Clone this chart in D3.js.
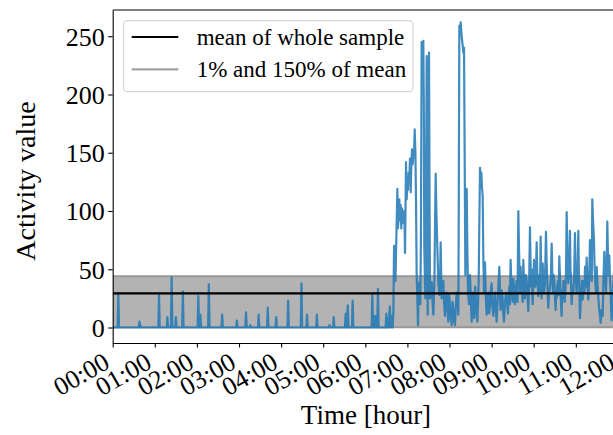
<!DOCTYPE html>
<html lang="en">
    <head>
        <meta charset="utf-8">
        <title>Activity value</title>
        <script src="https://d3js.org/d3.v7.min.js"></script>
        <style type="text/css">
            body {
                margin: 0;
                background: white;
            }
            .axis path,
            .axis line {
                stroke: black;
                stroke-width: 1.1px;
            }
            .activity {
                fill: none;
                stroke: #1f77b4;
                stroke-opacity: 0.85;
                stroke-width: 2.2px;
                stroke-linejoin: round;
            }
        </style>
    </head>
    <body>
        <script type="text/javascript">

            const w = 613;
            const h = 435;
            const margin = {top: 10, bottom: 92, left: 112.7};
            const serif = "'Liberation Serif', 'Times New Roman', Times, serif";

            // tick labels along the time axis (one per hour)
            const hourLabels = ["00:00", "01:00", "02:00", "03:00", "04:00", "05:00", "06:00",
                                "07:00", "08:00", "09:00", "10:00", "11:00", "12:00"];
            const valueTicks = [0, 50, 100, 150, 200, 250];

            const meanValue = 29.3;
            const bandLow = 0.01 * meanValue;
            const bandHigh = 1.5 * meanValue;

            // [minute of day, activity value]
            const nightPart = [
                [0,0],[7,0],[8,28],[9,0],[37,0],[38,5],[39,3],[40,0],[65,0],[66,28],[67,0],
                [77,0],[78,9],[79,0],[83,0],[84,43],[85,0],[89,0],[90,9],[91,0],[99,0],[100,31],[101,0],
                [121,0],[122,27],[123,0],[124,0],[125,11],[126,0],[136,0],[137,37],[138,0],
                [155,0],[156,11],[157,0],[176,0],[177,6],[178,0],[189,0],[190,13],[191,0],
                [195,0],[196,2],[197,0],[207,0],[208,11],[209,0],[220,0],[221,17],[222,0],
                [232,0],[233,9],[234,0],[249,0],[250,23],[251,0],[268,0],[269,38],[270,0],
                [276,0],[277,11],[278,0],[290,0],[291,11],[292,0],[308,0],[309,2],[310,0],
                [314,0],[315,9],[316,0],[331,0],[332,12],[333,0],[334,0],[335,19],[336,0],
                [341,0],[342,23],[343,0],[369,0],[370,28],[371,0],[372,10],[374,0],[375,10],
                [376,0],[377,0],[378,33],[379,0],[389,0],[390,12],[391,0],[392,8],[393,0],
                [395,18],[396,0],[398,10],[399,0]
            ];

            const morningPart = [
                [400,12],[401,70],[402,45],[403,40],[404,70],[405.7,119],[406.5,85],[407.6,95],[408.5,110],
                [409.4,92],[410.4,105],[411.3,85],[412.3,102],[413.2,95],[414.2,90],[415.6,100],[416.6,64],
                [418,142],[419,110],[419.9,125],[420.8,118],[421.8,133],[422.8,128],[423.7,145],[424.7,116],
                [425.6,140],[426.6,153],[427.5,140],[428.5,148],[429.5,150],[430.4,170],[431.4,150],
                [432.3,108],[433.2,45],[434.1,28],[435.1,2],[436,30],[437,39],[438.4,20],[439.3,80],
                [440.3,245],[441.5,240],[442.7,246],[443.4,190],[444.1,68],[445.6,25],[446.5,120],
                [447.5,233],[448.2,150],[448.9,11],[450,160],[450.8,236],[451.5,120],[452.2,25],
                [453.4,38],[454.6,39],[455.8,22],[457,11],[458.5,40],[459.4,90],[460.3,132],[461.3,100],
                [462.7,68],[464,40],[465.5,28],[466.5,40],[467.4,73],[468.8,25],[470,35],[471.2,40],
                [472.4,20],[473.6,10],[474.8,25],[476,30],[477.2,15],[478.3,5],[479.5,28],[480.7,20],
                [481.9,8],[483.1,2],[484.3,22],[485.5,15],[486.7,5],[487.8,2],[489,18],[490.2,30],
                [491.4,25],[492.6,11],[493.3,120],[494,259],[495,255],[495.9,262],[497.3,250],
                [498.8,242],[499.7,236],[500.7,240],[501.6,150],[502.6,45],[503.5,80],[504.5,119],
                [505.4,70],[506.4,31],[507.8,20],[509.2,45],[510.4,25],[511.6,5],[512.8,30],[514,19],
                [515.2,8],[516.5,35],[517.8,22],[518.7,12],[519.7,5],[520.6,20],[521.6,40],[522.5,90],
                [523.5,137],[524.4,128],[525.4,133],[526.3,120],[527.3,113],[528.2,60],[529.2,30],
                [530.6,56],[531.8,25],[533,11],[534.2,18],[535.4,30],[536.5,12],[537.7,19],[538.9,32],
                [540,38],[541.2,18],[542.4,10],[543.6,22],[544.8,30],[546,14],[547.2,5],[548.4,20],
                [549.6,35]
            ];

            const latePart = [
                [551,52],[552,28],[552.9,15],[554.3,32],[555.7,25],[556.6,12],[557.6,5],[559,20],
                [560.5,30],[561.9,22],[563.3,12],[564.2,26],[565.2,35],[566.1,20],[567.1,58],[568,40],
                [569,30],[570,22],[570.9,42],[572.1,34],[573.3,20],[574.5,28],[575.7,40],[576.9,22],
                [578.1,100],[579,70],[580,45],[580.7,30],[581.4,52],[582.4,38],[583.3,30],[584.3,22],
                [585.2,58],[586.4,35],[587.6,25],[588.8,45],[590,40],[591.1,28],[592.3,14],[593.5,40],
                [594.7,86],[595.4,60],[596.1,35],[597.1,50],[597.8,32],[598.5,20],[599.5,36],[600.4,58],
                [601.4,40],[602.3,35],[603.2,45],[604.2,73],[605.4,40],[606.6,27],[607.3,38],[608,45],
                [609,30],[609.9,78],[610.6,42],[611.3,25],[612,40],[612.8,55],[613.7,42],[614.7,30],
                [616,38],[617.5,82],[618.5,55],[619.4,40],[620.1,26],[620.8,17],[622,30],[623.2,35],
                [624.4,42],[625.6,72],[626.6,45],[627.5,30],[628.5,45],[629.4,40],[630.4,24],[631.3,15],
                [632,30],[632.7,25],[633.6,36],[634.6,40],[635.6,28],[636.5,61],[637.5,42],[638.4,30],
                [639.1,18],[639.8,10],[640.7,32],[641.7,25],[642.4,40],[643.2,38],[644.1,22],[645,30],
                [646,45],[647,99],[648.1,60],[649.3,38],[650.1,45],[650.8,60],[651.7,83],[652.4,50],
                [653.1,45],[653.6,30],[654.1,20],[655.3,35],[656.5,30],[657.6,42],[658.8,81],[659.5,55],
                [660.3,40],[661.2,30],[662.4,45],[663.6,83],[664.3,50],[665,35],[665.5,20],[666,8],
                [667,22],[667.9,30],[668.8,40],[669.8,24],[670.8,32],[671.7,40],[672.4,30],[673.1,52],
                [674.3,35],[675.5,60],[676.6,38],[677.8,24],[679,40],[680.2,75],[681.1,45],[682.1,60],
                [682.8,40],[683.5,110],[684.7,90],[685.9,75],[686.8,50],[687.8,40],[688.7,30],[689.7,52],
                [691.1,35],[692.6,21],[693.5,15],[694.5,10],[695.4,4],[696.8,15],[698.3,10],[699.4,40],
                [700.6,65],[701.8,45],[703,30],[704,55],[704.9,91],[705.6,70],[706.3,45],[707,52],
                [707.7,62],[708.7,42],[709.7,30],[710.4,15],[711.1,6],[712.3,22],[713.5,40],[714.7,50],
                [716,60],[718,35],[720,30]
            ];

            const data = nightPart.concat(morningPart, latePart)
                                  .map(d => ({minute: d[0], value: d[1]}));

            const xScale = d3.scaleLinear()
                             .domain([0, 720])
                             .range([margin.left, 617.9]);

            const yScale = d3.scaleLinear()
                             .domain([-13.3, 272.5])
                             .range([h - margin.bottom, margin.top]);

            const svg = d3.select("body")
                    .append("svg")
                    .attr("width", w)
                    .attr("height", h)
                    .style("font-family", serif);

            svg.append("clipPath")
               .attr("id", "plotClip")
               .append("rect")
               .attr("x", margin.left)
               .attr("y", margin.top)
               .attr("width", w - margin.left)
               .attr("height", h - margin.bottom - margin.top);

            const plot = svg.append("g").attr("clip-path", "url(#plotClip)");

            // band between 1% and 150% of the mean
            plot.append("rect")
                .attr("x", xScale(0))
                .attr("y", yScale(bandHigh))
                .attr("width", w - xScale(0))
                .attr("height", yScale(bandLow) - yScale(bandHigh))
                .attr("fill", "#b3b3b3");

            [bandLow, bandHigh].forEach(v => {
                plot.append("line")
                    .attr("x1", xScale(0))
                    .attr("x2", w)
                    .attr("y1", yScale(v))
                    .attr("y2", yScale(v))
                    .attr("stroke", "#979797")
                    .attr("stroke-width", 2);
            });

            const coords = d3.line()
                             .x(d => xScale(d.minute))
                             .y(d => yScale(d.value));

            plot.append("path")
                .datum(data)
                .attr("class", "activity")
                .attr("d", coords);

            plot.append("line")
                .attr("x1", xScale(0))
                .attr("x2", w)
                .attr("y1", yScale(meanValue))
                .attr("y2", yScale(meanValue))
                .attr("stroke", "black")
                .attr("stroke-width", 2.2);

            // axes
            const bottomAxis = d3.axisBottom(xScale)
                                 .tickValues(hourLabels.map((d, i) => i * 60))
                                 .tickFormat((d, i) => hourLabels[i])
                                 .tickSizeInner(4.5)
                                 .tickSizeOuter(0);

            const xAxis = svg.append("g")
               .attr("class", "axis")
               .attr("transform", "translate(0," + (h - margin.bottom) + ")")
               .call(bottomAxis);

            xAxis.selectAll("text")
                 .style("font-family", serif)
                 .style("font-size", "26px")
                 .attr("text-anchor", "end")
                 .attr("dy", null)
                 .attr("y", null)
                 .attr("transform", "translate(-2,24) rotate(-30)");

            const leftAxis = d3.axisLeft(yScale)
                               .tickValues(valueTicks)
                               .tickSizeInner(4.5)
                               .tickSizeOuter(0);

            svg.append("g")
               .attr("class", "axis")
               .attr("transform", "translate(" + margin.left + ",0)")
               .call(leftAxis)
               .selectAll("text")
               .style("font-family", serif)
               .style("font-size", "26px")
               .attr("dy", "0.34em")
               .attr("x", -8);

            svg.append("line")
               .attr("x1", margin.left)
               .attr("x2", w)
               .attr("y1", margin.top)
               .attr("y2", margin.top)
               .attr("stroke", "black")
               .attr("stroke-width", 1.1);

            // axis titles
            svg.append("text")
               .style("font-family", serif)
               .style("font-size", "27px")
               .attr("text-anchor", "middle")
               .attr("x", 366)
               .attr("y", 424)
               .text("Time [hour]");

            svg.append("text")
               .style("font-family", serif)
               .style("font-size", "28px")
               .attr("text-anchor", "middle")
               .attr("transform", "translate(35,181) rotate(-90)")
               .text("Activity value");

            // legend
            const legend = svg.append("g");

            legend.append("rect")
                  .attr("x", 123.5)
                  .attr("y", 20.7)
                  .attr("width", 289.5)
                  .attr("height", 71)
                  .attr("rx", 4)
                  .attr("fill", "white")
                  .attr("fill-opacity", 0.85)
                  .attr("stroke", "#d6d6d6")
                  .attr("stroke-width", 1.2);

            const legendItems = [
                {name: "mean of whole sample", color: "black", y: 37},
                {name: "1% and 150% of mean", color: "#a3a3a3", y: 69.3}
            ];

            legendItems.forEach(d => {
                legend.append("line")
                      .attr("x1", 131.7)
                      .attr("x2", 178.3)
                      .attr("y1", d.y)
                      .attr("y2", d.y)
                      .attr("stroke", d.color)
                      .attr("stroke-width", 2.2);
                legend.append("text")
                      .style("font-family", serif)
                      .style("font-size", "23px")
                      .attr("x", 196.7)
                      .attr("y", d.y + 7.5)
                      .text(d.name);
            });

        </script>
    </body>
</html>
